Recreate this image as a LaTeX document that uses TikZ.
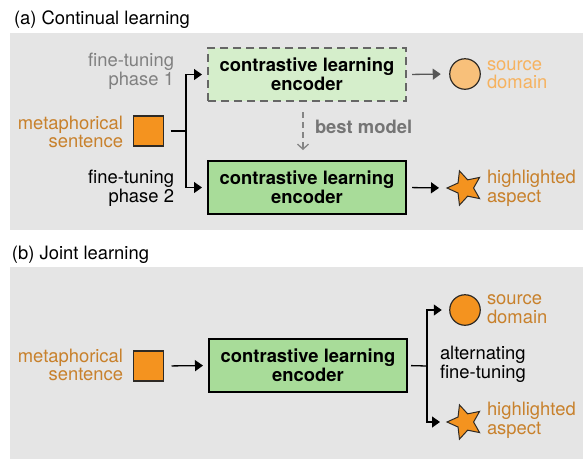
\documentclass[tikz,border=0pt]{standalone}
\usepackage{fontspec}
\setmainfont{TeX Gyre Heros}
\usetikzlibrary{arrows.meta,shapes.geometric}
\definecolor{panelgray}{HTML}{E5E5E5}
\definecolor{lightgreen}{HTML}{D5EECB}
\definecolor{midgreen}{HTML}{A8DC99}
\definecolor{orangef}{HTML}{F4931F}
\definecolor{lightorangef}{HTML}{F8C07A}
\definecolor{textorange}{HTML}{C8812C}
\definecolor{textlightorange}{HTML}{F6B25F}
\definecolor{graytext}{HTML}{808080}
\definecolor{darkgray}{HTML}{666666}
\definecolor{shapeedge}{HTML}{2E2A25}
\begin{document}
\begin{tikzpicture}[x=1pt,y=-1pt,
  every node/.style={font=\fontsize{18.4}{18.6}\selectfont, inner sep=0pt, outer sep=0pt},
  panel/.style={fill=panelgray, draw=none},
  encbox/.style={minimum width=198pt, minimum height=53pt, align=center,
    font=\fontsize{18.4}{18.6}\selectfont\bfseries, line width=2pt},
  label/.style={align=right, anchor=east},
  outlabel/.style={align=left, anchor=west},
  sq/.style={draw=shapeedge, fill=orangef, line width=1.2pt, minimum size=30pt},
  circ/.style={circle, draw=shapeedge, line width=1.2pt, minimum size=30.5pt},
  starshape/.style={star, star points=5, star point ratio=2.1, draw=shapeedge,
    fill=orangef, line width=1pt, minimum size=36pt, shape border rotate=90},
  conn/.style={line width=1.3pt, draw=black},
  arr/.style={conn, -{Triangle[length=8pt, width=11pt]}}
]
\useasboundingbox (0,0) rectangle (583,459);
\fill[white] (0,0) rectangle (583,459);

% panels
\fill[panelgray] (10,33) rectangle (583,230);
\fill[panelgray] (10,267) rectangle (583,459);

% titles
\node[anchor=base west] (ta) at (14,24) {(a) Continual learning};
\node[anchor=base west] (tb) at (12,259) {(b) Joint learning};

% ---------- (a) ----------
\node[encbox, draw=darkgray, dash pattern=on 8pt off 5pt, fill=lightgreen] (enc1) at (307,74.5) {contrastive learning\\encoder};
\node[encbox, draw=black, fill=midgreen] (enc2) at (307,187.5) {contrastive learning\\encoder};

\node[sq] (sqa) at (148.5,131) {};
\node[label, text=textorange] (msa) at (123,132) {metaphorical\\sentence};
\node[label, text=graytext] (ph1) at (174,71) {fine-tuning\\phase 1};
\node[label, text=black] (ph2) at (174,188) {fine-tuning\\phase 2};

\coordinate (forka) at (186,131);
\draw[conn, shorten <=7pt] (sqa.east) -- (forka);
\draw[arr, shorten >=6pt] (forka) |- (enc1.west);
\draw[arr, shorten >=6pt] (forka) |- (enc2.west);

\node[circ, fill=lightorangef] (srca) at (465,74) {};
\node[starshape] (stara) at (465,188) {};
\node[outlabel, text=textlightorange] (srcla) at (487,74.5) {source\\domain};
\node[outlabel, text=textorange] (hila) at (487,188) {highlighted\\aspect};

\draw[arr, draw=darkgray!85!black, -{Triangle[length=8pt, width=11pt, fill=darkgray!85!black]}, shorten <=6pt, shorten >=9pt] (enc1.east) -- (srca.west);
\draw[arr, shorten <=6pt, shorten >=8pt] (enc2.east) -- (stara.west);

\coordinate (bmtop) at (303,101);
\coordinate (bmbot) at (303,161);
\draw[line width=1.3pt, draw=darkgray!80!white, dash pattern=on 6pt off 4pt,
  -{Straight Barb[length=5pt, width=11pt, line width=1.3pt]},
  shorten <=11pt, shorten >=11pt] (bmtop) -- (bmbot);
\node[anchor=west, font=\fontsize{18.4}{18.6}\selectfont\bfseries, text=darkgray!90!white] (bm) at (315,127) {best model};

% ---------- (b) ----------
\node[encbox, draw=black, fill=midgreen] (encb) at (308,365.5) {contrastive learning\\encoder};
\node[sq] (sqb) at (148.5,366) {};
\node[label, text=textorange] (msb) at (123,365) {metaphorical\\sentence};
\draw[arr, shorten <=8pt, shorten >=6pt] (sqb.east) -- (encb.west);

\coordinate (forkb) at (427,366);
\draw[conn, shorten <=4pt] (encb.east) -- (forkb);
\node[circ, fill=orangef] (srcb) at (465,310) {};
\node[starshape] (starb) at (465,422) {};
\draw[arr, shorten >=8pt] (forkb) |- (srcb.west);
\draw[arr, shorten >=7pt] (forkb) |- (starb.west);
\node[outlabel, text=textorange] (srclb) at (487,309) {source\\domain};
\node[outlabel, text=textorange] (hilb) at (487,420.5) {highlighted\\aspect};
\node[outlabel, text=black] (alt) at (440,364.5) {alternating\\fine-tuning};
\end{tikzpicture}
\end{document}
